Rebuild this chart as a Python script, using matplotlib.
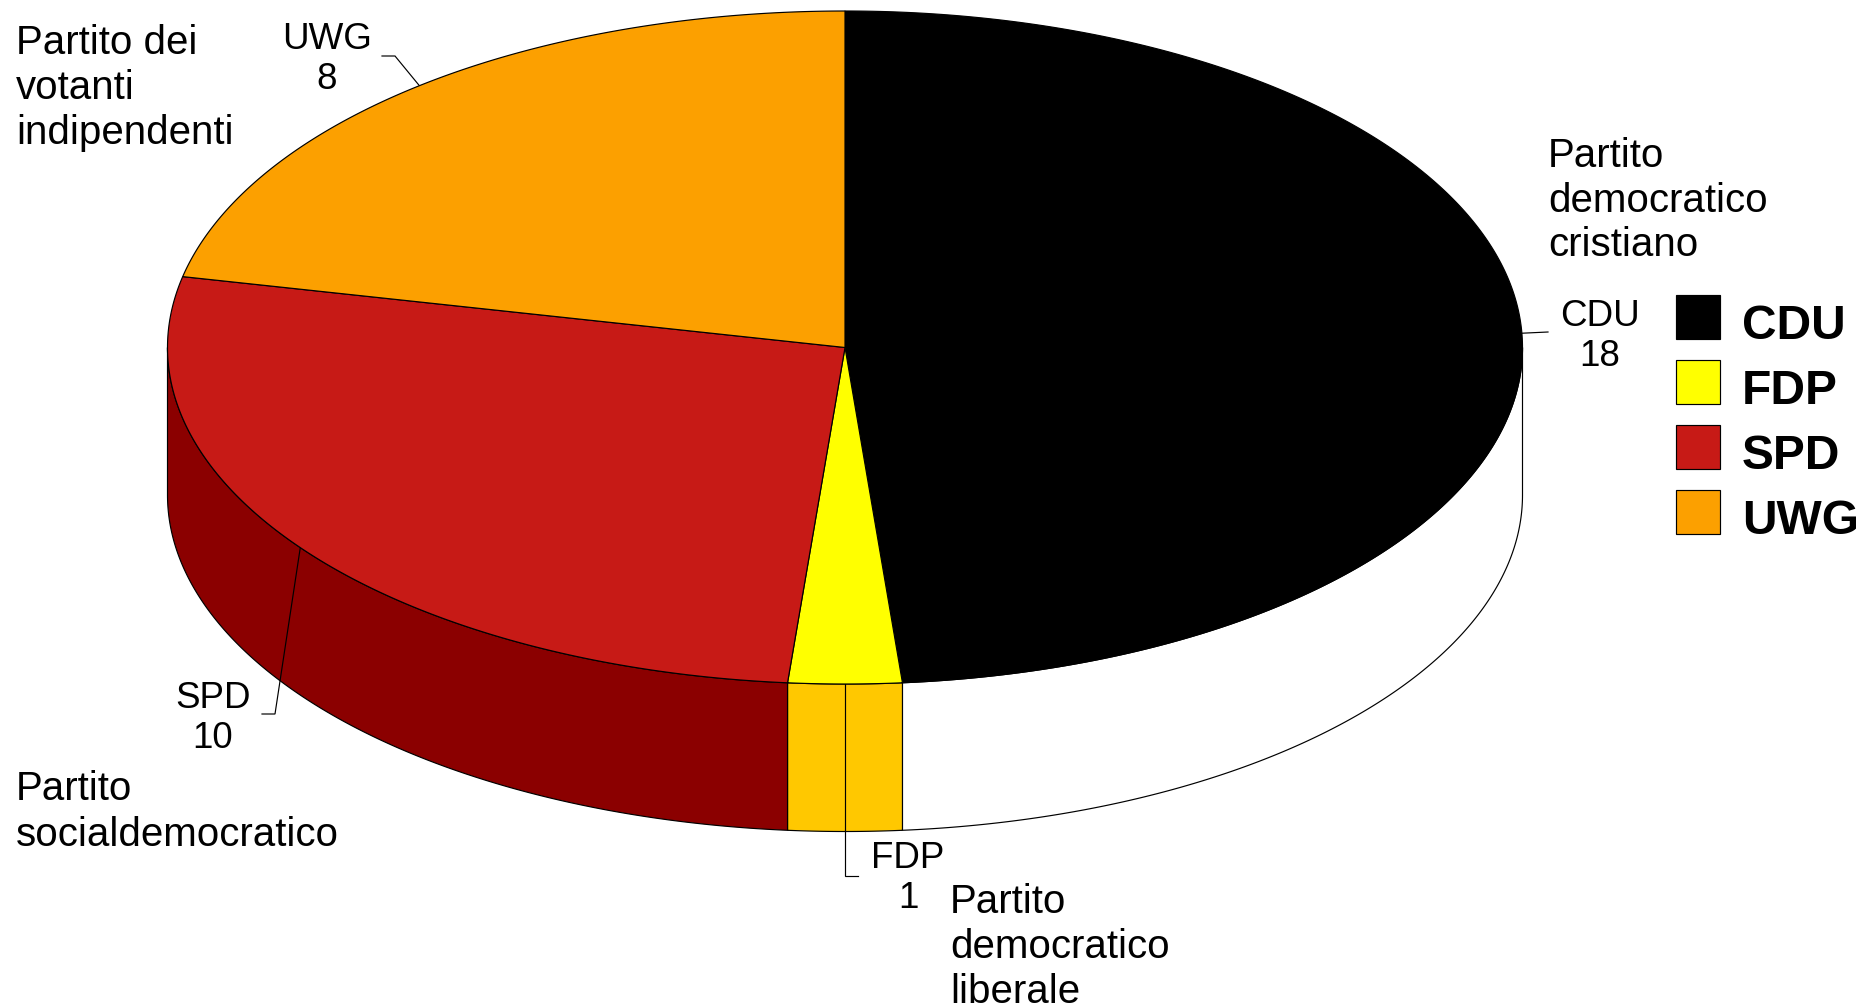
import numpy as np
import matplotlib
matplotlib.use("Agg")
import matplotlib.pyplot as plt
from matplotlib.patches import Rectangle

plt.rcParams['font.family'] = ['Liberation Sans', 'DejaVu Sans']

parties = ['CDU', 'FDP', 'SPD', 'UWG']
seats = [18, 1, 10, 8]
top_colors = ['#000000', '#ffff00', '#c71a16', '#fca000']
side_colors = ['#ffffff', '#ffc800', '#8b0000', '#fca000']

# nomi estesi, una riga per voce
full_names = [
    ['Partito', 'democratico', 'cristiano'],
    ['Partito', 'democratico', 'liberale'],
    ['Partito', 'socialdemocratico'],
    ['Partito dei', 'votanti', 'indipendenti'],
]
name_pos = [(1548, 166.5), (950, 913), (16, 800.5), (16, 54)]
label_pos = [(1600, 326), (908, 868.5), (213, 707.5), (327, 49)]
# gomito della linea guida
elbows = [(1548, 332), (845, 876), (275, 714), (395, 56)]
elbow_ends = [1548, 858, 262, 382]

cx, cy = 845, 347.5
rx, ry = 677.5, 336.5
depth = 147.5
LW = 0.85


def ellipse(t_deg, dy=0.0):
    t = np.radians(t_deg)
    return cx + rx * np.sin(t), cy - ry * np.cos(t) + dy


fig = plt.figure(figsize=(18.67, 10.06), dpi=100)
ax = fig.add_axes([0, 0, 1, 1])
ax.set_xlim(0, 1867)
ax.set_ylim(1006, 0)
ax.axis('off')

bounds = np.cumsum([0] + seats) / sum(seats) * 360

# fianchi visibili (solo la metà anteriore)
for i in range(len(seats)):
    a = max(bounds[i], 90)
    b = min(bounds[i + 1], 270)
    if a >= b:
        continue
    t = np.linspace(a, b, 200)
    x1, y1 = ellipse(t)
    x2, y2 = ellipse(t[::-1], depth)
    ax.fill(np.r_[x1, x2], np.r_[y1, y2], facecolor=side_colors[i],
            edgecolor='black', linewidth=LW, zorder=2)

# spicchi superiori
for i in range(len(seats)):
    t = np.linspace(bounds[i], bounds[i + 1], 300)
    x, y = ellipse(t)
    ax.fill(np.r_[cx, x], np.r_[cy, y], facecolor=top_colors[i],
            edgecolor='black', linewidth=LW, zorder=3)

# etichette con linea guida
for i, party in enumerate(parties):
    mid = (bounds[i] + bounds[i + 1]) / 2
    x0, y0 = ellipse(mid)
    ex, ey = elbows[i]
    ax.plot([x0, ex, elbow_ends[i]], [y0, ey, ey], color='black',
            linewidth=LW, zorder=2.5, solid_joinstyle='miter')
    lx, ly = label_pos[i]
    ax.text(lx, ly, party, fontsize=26.5, ha='center', va='baseline', zorder=5)
    ax.text(lx, ly + 40, str(seats[i]), fontsize=26.5, ha='center', va='baseline', zorder=5)

    nx, ny = name_pos[i]
    for j, line in enumerate(full_names[i]):
        ax.text(nx, ny + 45 * j, line, fontsize=29, ha='left', va='baseline', zorder=5)

# legenda
for i, party in enumerate(parties):
    y = 295 + 65 * i
    ax.add_patch(Rectangle((1676, y), 44, 44, facecolor=top_colors[i],
                           edgecolor='black', linewidth=LW, zorder=4))
    ax.text(1742, y + 44, party, fontsize=34.5, fontweight='bold',
            ha='left', va='baseline', zorder=5)

fig.savefig('out.png', dpi=100, facecolor='white')
